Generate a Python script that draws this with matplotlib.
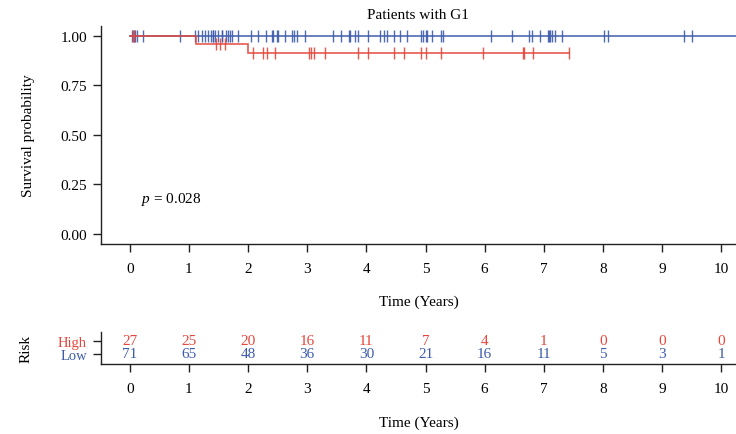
import numpy as np
import matplotlib
matplotlib.use("Agg")
import matplotlib.pyplot as plt

plt.rcParams["font.family"] = ["Liberation Serif", "DejaVu Serif"]
plt.rcParams["mathtext.fontset"] = "custom"
plt.rcParams["mathtext.it"] = "Liberation Serif:italic"
plt.rcParams["mathtext.rm"] = "Liberation Serif"

# Follow-up times (years) and event flags (1 = death, 0 = censored)
high_times = [0.06, 0.07, 1.117, 1.45, 1.527, 1.607, 1.99,
              2.08, 2.26, 2.32, 2.45,
              3.024, 3.058, 3.115, 3.305, 3.853,
              4.022, 4.462, 4.631, 4.924,
              5.008, 5.266, 5.98,
              6.656, 6.66, 6.815,
              7.42]
high_events = [0, 0, 1, 0, 0, 0, 1,
               0, 0, 0, 0,
               0, 0, 0, 0, 0,
               0, 0, 0, 0,
               0, 0, 0,
               0, 0, 0,
               0]

low_times = [0.045, 0.068, 0.09, 0.12, 0.225, 0.857,
             1.094, 1.145, 1.213, 1.269, 1.325, 1.371, 1.40, 1.404, 1.438,
             1.494, 1.551, 1.555, 1.629, 1.663, 1.697, 1.731, 1.822,
             2.047, 2.171, 2.296, 2.398, 2.425, 2.482, 2.50, 2.628, 2.741,
             2.775, 2.821, 2.966,
             3.44, 3.565, 3.70, 3.72, 3.807, 3.863,
             4.022, 4.225, 4.303, 4.349, 4.472, 4.563, 4.687, 4.924, 4.95,
             5.008, 5.02, 5.11, 5.257, 5.301,
             6.113, 6.469, 6.751, 6.807, 6.942,
             7.068, 7.09, 7.10, 7.146, 7.191, 7.304,
             8.02, 8.08,
             9.37, 9.51,
             10.37]
low_events = [0] * len(low_times)

# Numbers at risk
risk_times = [0, 1, 2, 3, 4, 5, 6, 7, 8, 9, 10]
risk_high = [27, 25, 20, 16, 11, 7, 4, 1, 0, 0, 0]
risk_low = [71, 65, 48, 36, 30, 21, 16, 11, 5, 3, 1]

group_names = ["High", "Low"]
p_value = 0.028

RED = "#E5473C"
BLUE = "#3D5BAB"
FS = 11


def kaplan_meier(times, events):
    t = np.asarray(times, float)
    e = np.asarray(events, int)
    order = np.argsort(t, kind="stable")
    t, e = t[order], e[order]
    xs, ys = [0.0], [1.0]
    surv = 1.0
    cens_x, cens_y = [], []
    for ut in np.unique(t):
        at_risk = np.sum(t >= ut)
        d = np.sum((t == ut) & (e == 1))
        c = np.sum((t == ut) & (e == 0))
        if d > 0:
            xs.append(ut); ys.append(surv)
            surv *= (1 - d / at_risk)
            xs.append(ut); ys.append(surv)
        if c > 0:
            cens_x.extend([ut] * c); cens_y.extend([surv] * c)
    xs.append(t.max()); ys.append(surv)
    return np.array(xs), np.array(ys), np.array(cens_x), np.array(cens_y)


fig = plt.figure(figsize=(7.36, 4.35), dpi=100)
ax = fig.add_axes([0.137, 0.437, 0.863, 0.501])

for times, events, col in [(low_times, low_events, BLUE),
                           (high_times, high_events, RED)]:
    x, y, cx, cy = kaplan_meier(times, events)
    ax.plot(x, y, color=col, lw=1.2, alpha=0.9, solid_joinstyle="miter")
    ax.plot(cx, cy, ls="none", marker="|", ms=8, mew=1.0, color=col, alpha=0.9)

xlim = (-0.49, 10.25)
ax.set_xlim(*xlim)
ax.set_ylim(-0.05, 1.05)
ax.set_xticks(risk_times)
ax.set_yticks([0, 0.25, 0.5, 0.75, 1.0])
ax.set_yticklabels(["0.00", "0.25", "0.50", "0.75", "1.00"])
for s in ["top", "right"]:
    ax.spines[s].set_visible(False)
for s in ["left", "bottom"]:
    ax.spines[s].set_linewidth(1.0)
    ax.spines[s].set_color("#222222")
ax.tick_params(axis="both", direction="out", length=6, width=1.0,
               color="#222222", labelsize=FS)
ax.tick_params(axis="x", pad=7)
ax.tick_params(axis="y", pad=4)
ax.set_xlabel("Time (Years)", fontsize=FS, labelpad=14)
ax.set_ylabel("Survival probability", fontsize=FS, labelpad=18)
ax.set_title("Patients with G1", fontsize=FS, pad=6)
ax.text(0.19, 0.18, r"$p$ = " + f"{p_value:.3f}", fontsize=FS,
        ha="left", va="center")

# Risk table
rax = fig.add_axes([0.137, 0.161, 0.863, 0.073])
rax.set_xlim(*xlim)
rax.set_ylim(-0.75, 1.63)
rax.set_xticks(risk_times)
rax.set_yticks([1, 0])
rax.set_yticklabels(group_names)
for lbl, col in zip(rax.get_yticklabels(), [RED, BLUE]):
    lbl.set_color(col)
for xt, nh, nl in zip(risk_times, risk_high, risk_low):
    rax.text(xt, 1, str(nh), color=RED, ha="center", va="center", fontsize=FS)
    rax.text(xt, 0, str(nl), color=BLUE, ha="center", va="center", fontsize=FS)
for s in ["top", "right"]:
    rax.spines[s].set_visible(False)
for s in ["left", "bottom"]:
    rax.spines[s].set_linewidth(1.0)
    rax.spines[s].set_color("#222222")
rax.tick_params(axis="both", direction="out", length=6, width=1.0,
                color="#222222", labelsize=FS)
rax.tick_params(axis="x", pad=7)
rax.tick_params(axis="y", pad=4, labelsize=10.5)
rax.set_xlabel("Time (Years)", fontsize=FS, labelpad=15)
rax.set_ylabel("Risk", fontsize=FS, labelpad=18)

fig.savefig("out.png", dpi=100)
